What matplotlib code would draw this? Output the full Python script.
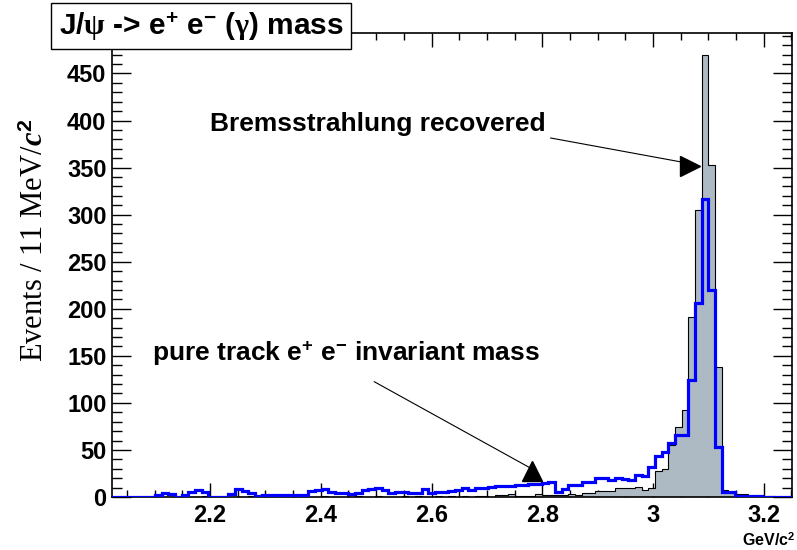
import matplotlib
matplotlib.use("Agg")
import matplotlib.pyplot as plt
import numpy as np

# histogram binning (GeV/c^2)
BIN_START = 2.0166
BIN_WIDTH = 0.01204

# J/psi -> e+ e- (gamma): bremsstrahlung photons added back
BREMS_RECOVERED = [
    0, 0, 0, 0, 0, 0, 0, 0, 0, 0,
    0, 0, 0, 0, 1, 0, 0, 0, 0, 0,
    0, 1, 0, 0, 0, 0, 1, 0, 0, 0,
    0, 0, 1, 0, 0, 0, 0, 1, 0, 0,
    1, 0, 0, 0, 1, 0, 1, 0, 0, 1,
    0, 1, 0, 1, 0, 1, 1, 0, 2, 2,
    3, 1, 1, 1, 3, 2, 2, 2, 2, 3,
    2, 4, 4, 6, 6, 6, 10, 10, 10, 11,
    7, 10, 28, 30, 55, 74, 92, 191, 305, 470,
    353, 138, 7, 5, 3, 3, 1, 1, 0, 1,
    0, 0, 0,
]

# pure track e+ e- invariant mass
PURE_TRACK = [
    0, 0, 0, 0, 0, 0, 0, 2, 4, 3,
    0, 2, 5, 7, 5, 0, 0, 0, 3, 8,
    6, 4, 1, 2, 2, 2, 2, 2, 2, 2,
    6, 7, 9, 5, 4, 4, 3, 4, 7, 9,
    10, 7, 4, 5, 5, 4, 4, 9, 4, 5,
    5, 6, 7, 10, 7, 10, 10, 11, 12, 12,
    12, 13, 13, 14, 14, 15, 16, 5, 8, 13,
    13, 16, 16, 20, 20, 18, 20, 19, 18, 23,
    22, 32, 44, 48, 57, 66, 66, 124, 206, 317,
    220, 53, 5, 5, 1, 1, 1, 1, 0, 0,
    0, 0, 0,
]

X_TICKS = [2.2, 2.4, 2.6, 2.8, 3.0, 3.2]
X_TICK_LABELS = ["2.2", "2.4", "2.6", "2.8", "3", "3.2"]
Y_TICKS = [0, 50, 100, 150, 200, 250, 300, 350, 400, 450]

FILL_COLOR = "#adbac4"
TRACK_COLOR = "#0000ff"

plt.rcParams["font.family"] = ["Liberation Sans", "DejaVu Sans"]
plt.rcParams["font.weight"] = "bold"
plt.rcParams["mathtext.fontset"] = "custom"
plt.rcParams["mathtext.rm"] = "Liberation Sans:bold"
plt.rcParams["mathtext.bf"] = "Liberation Sans:bold"
plt.rcParams["mathtext.it"] = "Liberation Serif:italic"
plt.rcParams["mathtext.sf"] = "Liberation Serif"  # upright greek, like ROOT's Symbol font

fig = plt.figure(figsize=(7.97, 5.5), dpi=100)
ax = fig.add_axes([112 / 797, 53 / 550, 680 / 797, 464 / 550])

edges = BIN_START + BIN_WIDTH * np.arange(len(BREMS_RECOVERED) + 1)
ax.stairs(BREMS_RECOVERED, edges, fill=True, color=FILL_COLOR, zorder=2)
ax.stairs(BREMS_RECOVERED, edges, color="black", linewidth=0.8, zorder=3)
ax.stairs(PURE_TRACK, edges, color=TRACK_COLOR, linewidth=2.3, zorder=4)

ax.set_xlim(2.023, 3.251)
ax.set_ylim(0, 493)

ax.set_xticks(X_TICKS)
ax.set_xticklabels(X_TICK_LABELS)
ax.set_xticks(np.arange(2.05, 3.25, 0.05), minor=True)
ax.set_yticks(Y_TICKS)
ax.set_yticks(np.arange(0, 491, 10), minor=True)

ax.tick_params(axis="both", which="both", direction="in", top=True, right=True,
               labelsize=17, width=1.0)
ax.tick_params(axis="x", which="major", length=10, pad=5)
ax.tick_params(axis="x", which="minor", length=5)
ax.tick_params(axis="y", which="major", length=14, pad=4)
ax.tick_params(axis="y", which="minor", length=7)
for sp in ax.spines.values():
    sp.set_linewidth(1.2)

# x axis title, ROOT style at the right end
fig.text(795 / 797, 1 - 540 / 550, "GeV/c$^{2}$", ha="right", va="center",
         fontsize=11.5, fontweight="bold")

# y axis title in Times
fig.text(35 / 797, 1 - 240 / 550, "Events / 11 MeV/$c^{2}$", rotation=90,
         ha="center", va="center", fontsize=22, family="Liberation Serif",
         fontweight="normal")

# title box
fig.text(201 / 797, 1 - 26 / 550,
         r"J/$\mathsf{\psi}$ -> e$^{+}$ e$^{-}$ ($\mathsf{\gamma}$) mass",
         ha="center", va="center", fontsize=21.5, fontweight="bold",
         bbox=dict(boxstyle="square,pad=0.25", fc="white", ec="black", lw=1.0),
         zorder=10)

# annotations
ax.text(2.2, 396, "Bremsstrahlung recovered", ha="left", va="center",
        fontsize=19, fontweight="bold")
ax.annotate("", xy=(3.06, 355), xytext=(2.81, 382),
            arrowprops=dict(arrowstyle="-", color="black", lw=0.8))
ax.plot([3.066], [352], marker=">", markersize=14, color="black", zorder=6)

ax.text(2.095, 153, r"pure track e$^{+}$ e$^{-}$ invariant mass", ha="left",
        va="center", fontsize=19, fontweight="bold")
ax.annotate("", xy=(2.781, 30), xytext=(2.492, 124),
            arrowprops=dict(arrowstyle="-", color="black", lw=0.8))
ax.plot([2.781], [28], marker="^", markersize=14, color="black", zorder=6)

fig.savefig("out.png", dpi=100)
